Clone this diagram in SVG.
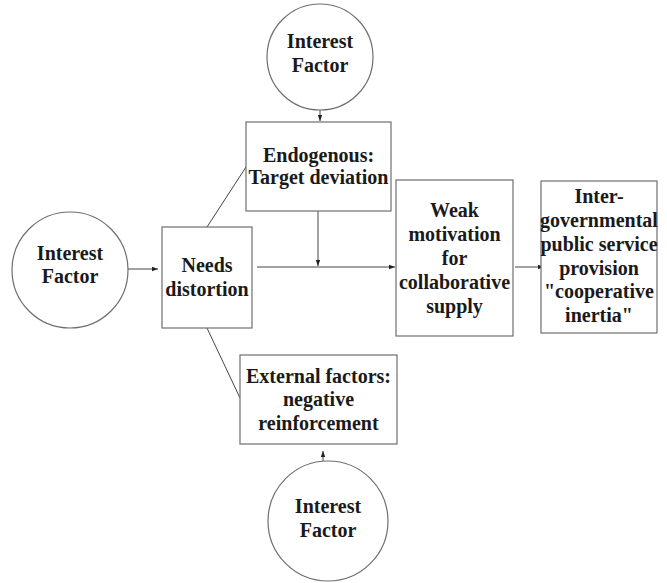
<svg xmlns="http://www.w3.org/2000/svg" width="667" height="583" viewBox="0 0 667 583">
<defs>
<style>
.shape{fill:#fff;stroke:#6e6e6e;stroke-width:1.2}
.ln{fill:none;stroke:#444;stroke-width:1}
.t{font-family:"Liberation Serif","Times New Roman",serif;font-weight:bold;font-size:20px;fill:#1a1a1a;text-anchor:middle}
</style>
<marker id="ah" viewBox="0 0 6 6" refX="6" refY="3" markerWidth="6" markerHeight="6" markerUnits="userSpaceOnUse" orient="auto">
<path d="M0,0.8 L6,3 L0,5.2 Z" fill="#222"/>
</marker>
</defs>
<rect width="667" height="583" fill="#fff"/>
<g id="connectors">
<line class="ln" x1="320" y1="110" x2="320" y2="121" marker-end="url(#ah)"/>
<line class="ln" x1="128" y1="269" x2="158" y2="269" marker-end="url(#ah)"/>
<line class="ln" x1="257" y1="267" x2="395" y2="267" marker-end="url(#ah)"/>
<line class="ln" x1="318" y1="211" x2="318" y2="266" marker-end="url(#ah)"/>
<line class="ln" x1="207" y1="227" x2="246" y2="167"/>
<line class="ln" x1="207" y1="328" x2="240" y2="398"/>
<line class="ln" x1="515" y1="267" x2="544" y2="267" marker-end="url(#ah)"/>
<line class="ln" x1="323" y1="461" x2="323" y2="451" marker-end="url(#ah)"/>
</g>
<g id="interest-top">
<circle class="shape" cx="320" cy="57" r="53"/>
<text class="t" x="320" y="48">Interest</text>
<text class="t" x="320" y="72">Factor</text>
</g>
<g id="endogenous">
<rect class="shape" x="246" y="122" width="145" height="89"/>
<text class="t" x="318.5" y="162">Endogenous:</text>
<text class="t" x="318.5" y="184">Target deviation</text>
</g>
<g id="interest-left">
<circle class="shape" cx="70" cy="270" r="58"/>
<text class="t" x="70" y="260">Interest</text>
<text class="t" x="70" y="283">Factor</text>
</g>
<g id="needs">
<rect class="shape" x="162" y="227" width="90" height="101"/>
<text class="t" x="207" y="272">Needs</text>
<text class="t" x="207" y="296">distortion</text>
</g>
<g id="weak">
<rect class="shape" x="396" y="180" width="117" height="156"/>
<text class="t" x="454.5" y="217">Weak</text>
<text class="t" x="454.5" y="241">motivation</text>
<text class="t" x="454.5" y="265">for</text>
<text class="t" x="454.5" y="289">collaborative</text>
<text class="t" x="454.5" y="313">supply</text>
</g>
<g id="inertia">
<rect class="shape" x="541" y="181" width="116" height="152"/>
<text class="t" x="599" y="203">Inter-</text>
<text class="t" x="599" y="227">governmental</text>
<text class="t" x="599" y="251">public service</text>
<text class="t" x="599" y="275">provision</text>
<text class="t" x="599" y="298">"cooperative</text>
<text class="t" x="599" y="322">inertia"</text>
</g>
<g id="external">
<rect class="shape" x="240" y="355" width="157" height="89"/>
<text class="t" x="318.5" y="383">External factors:</text>
<text class="t" x="318.5" y="406">negative</text>
<text class="t" x="318.5" y="430">reinforcement</text>
</g>
<g id="interest-bottom">
<circle class="shape" cx="328" cy="521" r="60"/>
<text class="t" x="328" y="513">Interest</text>
<text class="t" x="328" y="537">Factor</text>
</g>
</svg>
